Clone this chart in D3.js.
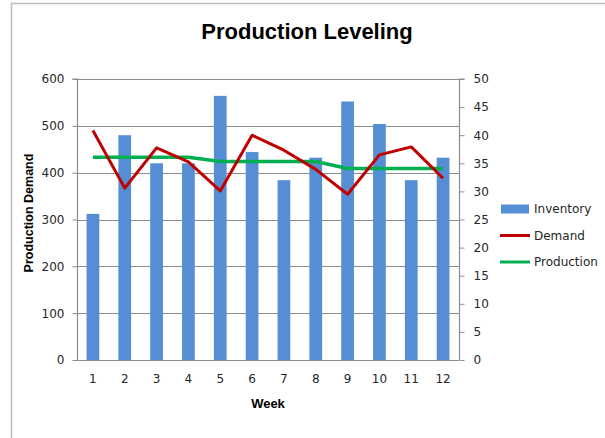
<!DOCTYPE html>
<html>
<head>
<meta charset="utf-8">
<script src="https://cdn.jsdelivr.net/npm/d3@7"></script>
<style>
  html, body { margin: 0; padding: 0; background: #fff; }
  svg { display: block; }
</style>
</head>
<body>
<svg id="chart" width="605" height="438"></svg>
<script>
const weeks = [1, 2, 3, 4, 5, 6, 7, 8, 9, 10, 11, 12];
const inventory = [26, 40, 35, 35, 47, 37, 32, 36, 46, 42, 32, 36];
const demand = [490, 367, 453, 423, 361, 480, 448, 407, 354, 438, 455, 388];
const production = [433, 433, 433, 433, 424, 424, 424, 424, 409, 409, 409, 409];
const leftTicks = [0, 100, 200, 300, 400, 500, 600];
const rightTicks = [0, 5, 10, 15, 20, 25, 30, 35, 40, 45, 50];
const seriesNames = ["Inventory", "Demand", "Production"];

const svg = d3.select("#chart");
const W = 605, H = 438;
const plot = { left: 77, right: 459, top: 79, bottom: 360 };

// outer chart border
svg.append("rect")
  .attr("x", 11.5).attr("y", 3.5).attr("width", 700).attr("height", 700)
  .attr("fill", "none").attr("stroke", "#bdbdbd").attr("stroke-width", 1.5);

const x = d3.scaleBand().domain(weeks).range([plot.left, plot.right])
  .paddingInner(0.6).paddingOuter(0.3);
const y = d3.scaleLinear().domain([0, 600]).range([plot.bottom, plot.top]);
const y2 = d3.scaleLinear().domain([0, 50]).range([plot.bottom, plot.top]);

// gridlines
svg.append("g").selectAll("line").data(leftTicks.filter(d => d > 0)).join("line")
  .attr("x1", plot.left).attr("x2", plot.right)
  .attr("y1", d => Math.round(y(d)) + 0.5).attr("y2", d => Math.round(y(d)) + 0.5)
  .attr("stroke", "#8c8c8c").attr("stroke-width", 1);

// bars
svg.append("g").selectAll("rect").data(weeks).join("rect")
  .attr("x", d => x(d))
  .attr("width", x.bandwidth())
  .attr("y", (d, i) => y2(inventory[i]))
  .attr("height", (d, i) => plot.bottom - y2(inventory[i]))
  .attr("fill", "#558ed5");

const fontTick = "'DejaVu Sans', Verdana, sans-serif";

// left axis
const gl = svg.append("g").attr("transform", `translate(${plot.left + 0.5},0)`)
  .call(d3.axisLeft(y).tickValues(leftTicks).tickSize(5).tickPadding(8));
// right axis
const gr = svg.append("g").attr("transform", `translate(${plot.right + 0.5},0)`)
  .call(d3.axisRight(y2).tickValues(rightTicks).tickSize(5).tickPadding(9));
// bottom axis
const gb = svg.append("g").attr("transform", `translate(0,${plot.bottom + 0.5})`)
  .call(d3.axisBottom(x).tickSize(0).tickPadding(14));
gb.select(".domain").attr("d", `M${plot.left},0H${plot.right}`);

[gl, gr, gb].forEach(g => {
  g.select(".domain").attr("stroke", "#8c8c8c").attr("stroke-width", 1.2);
  g.selectAll(".tick line").attr("stroke", "#8c8c8c");
  g.selectAll("text").attr("font-family", fontTick).attr("font-size", 12).attr("fill", "#262626");
});
gl.select(".domain").attr("d", `M-5,${plot.top}H0V${plot.bottom}`);
gr.select(".domain").attr("d", `M5,${plot.top}H0V${plot.bottom}`);

// lines
const lineGen = d3.line()
  .x((d, i) => x(weeks[i]) + x.bandwidth() / 2)
  .y(d => y(d));

svg.append("path").datum(production)
  .attr("d", lineGen).attr("fill", "none")
  .attr("stroke", "#00b050").attr("stroke-width", 3.5).attr("stroke-linejoin", "round");
svg.append("path").datum(demand)
  .attr("d", lineGen).attr("fill", "none")
  .attr("stroke", "#c00000").attr("stroke-width", 3).attr("stroke-linejoin", "round");

// title
svg.append("text").attr("x", 307).attr("y", 39).attr("text-anchor", "middle")
  .attr("font-family", "'Liberation Sans', Arial, sans-serif").attr("font-weight", "bold")
  .attr("font-size", 22).attr("fill", "#000").text("Production Leveling");

// axis titles
svg.append("text").attr("transform", "translate(33,213) rotate(-90)")
  .attr("text-anchor", "middle")
  .attr("font-family", "'Liberation Sans', Arial, sans-serif").attr("font-weight", "bold")
  .attr("font-size", 12.5).attr("fill", "#000").text("Production Demand");
svg.append("text").attr("x", 268).attr("y", 408).attr("text-anchor", "middle")
  .attr("font-family", "'Liberation Sans', Arial, sans-serif").attr("font-weight", "bold")
  .attr("font-size", 13).attr("fill", "#000").text("Week");

// legend
const legend = svg.append("g");
const legY = [209, 235.5, 262];
const colors = ["#558ed5", "#c00000", "#00b050"];
seriesNames.forEach((name, i) => {
  if (i === 0) {
    legend.append("rect").attr("x", 501).attr("y", legY[i] - 4.5).attr("width", 28).attr("height", 9)
      .attr("fill", colors[i]);
  } else {
    legend.append("line").attr("x1", 500).attr("x2", 530).attr("y1", legY[i]).attr("y2", legY[i])
      .attr("stroke", colors[i]).attr("stroke-width", 3);
  }
  legend.append("text").attr("x", 534).attr("y", legY[i] + 4)
    .attr("font-family", fontTick).attr("font-size", 12).attr("fill", "#262626").text(name);
});
</script>
</body>
</html>
